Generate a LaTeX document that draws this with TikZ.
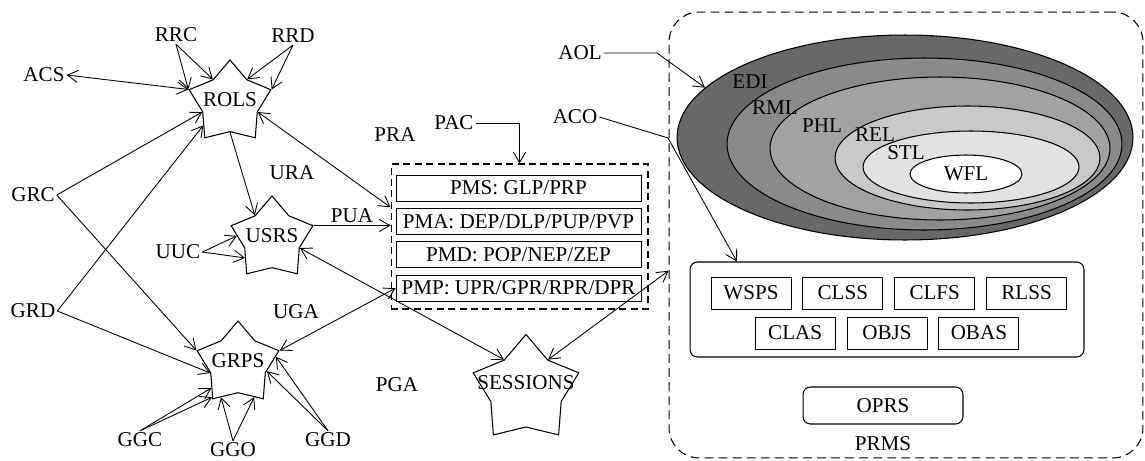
\documentclass[tikz,border=0pt]{standalone}
\usepackage{fontspec}
\setmainfont{Liberation Serif}
\usepackage{tikz}
\usetikzlibrary{arrows.meta,shapes,positioning,calc}
\definecolor{ringa}{RGB}{104,104,106}
\definecolor{ringb}{RGB}{138,138,140}
\definecolor{ringc}{RGB}{162,162,164}
\definecolor{ringd}{RGB}{201,201,203}
\definecolor{ringe}{RGB}{226,226,228}
\tikzstyle{arrow} = [-{Straight Barb[length=6pt,width=7pt]}, line width=0.5pt]
\tikzstyle{darrow} = [{Straight Barb[length=6pt,width=7pt]}-{Straight Barb[length=6pt,width=7pt]}, line width=0.5pt]
\tikzstyle{service} = [star, star points=5, star point ratio=1.5, draw, line width=0.6pt, inner sep=0pt, minimum size=1.72cm]
\tikzstyle{tag} = [inner sep=1pt]
\tikzstyle{perm} = [rectangle, draw, line width=0.5pt, minimum width=4.9cm, minimum height=0.52cm, inner sep=0pt]
\tikzstyle{sub} = [rectangle, draw, line width=0.5pt, minimum width=1.6cm, minimum height=0.64cm, inner sep=0pt]
\tikzstyle{ring} = [ellipse, draw, line width=0.6pt, inner sep=0pt]
\tikzstyle{dashbox} = [rectangle, draw, line width=0.6pt, dash pattern=on 5pt off 3pt]

\begin{document}
\begin{tikzpicture}[x=0.02cm, y=-0.02cm, font=\fontsize{12}{14}\selectfont]
\useasboundingbox (0,0) rectangle (1145,460);

% Services
\node (rols) [service, label={[yshift=2pt]center:ROLS}] at (230,103) {};
\node (usrs) [service, label={[yshift=2pt]center:USRS}] at (272,239) {};
\node (grps) [service, label={[yshift=2pt]center:GRPS}] at (238,364) {};
\node (sess) [service, minimum size=2.22cm, label={[yshift=4pt]center:SESSIONS}] at (526,390) {};

% Tags
\node (acs) [tag] at (44,75) {ACS};
\node (rrc) [tag] at (176,35) {RRC};
\node (rrd) [tag] at (293,36) {RRD};
\node (grc) [tag] at (33,195) {GRC};
\node (grd) [tag] at (33,311) {GRD};
\node (uuc) [tag] at (178,252) {UUC};
\node (ggc) [tag] at (140,440) {GGC};
\node (ggo) [tag] at (233,450) {GGO};
\node (ggd) [tag] at (328,440) {GGD};
\node (ura) [tag] at (292,173) {URA};
\node (pra) [tag] at (395,135) {PRA};
\node (pua) [tag] at (352,216) {PUA};
\node (uga) [tag] at (296,312) {UGA};
\node (pga) [tag] at (397,385) {PGA};
\node (pac) [tag] at (454,123) {PAC};
\node (aco) [tag] at (575,117) {ACO};
\node (aol) [tag] at (580,53) {AOL};

% Permissions
\node (prabox) [dashbox, dash pattern=on 4pt off 2.5pt, minimum width=5.14cm, minimum height=2.9cm] at (519.5,236.5) {};
\node (pms) [perm] at (518.5,188) {PMS: GLP/PRP};
\node (pma) [perm, below=0.13cm of pms] {PMA: DEP/DLP/PUP/PVP};
\node (pmd) [perm, below=0.13cm of pma] {PMD: POP/NEP/ZEP};
\node (pmp) [perm, below=0.13cm of pmd] {PMP: UPR/GPR/RPR/DPR};

% PRMS
\node (prms) [dashbox, rounded corners=0.6cm, minimum width=9.48cm, minimum height=8.92cm] at (906,235) {};
\node (ringedi) [ring, fill=ringa, minimum width=9.12cm, minimum height=4.1cm] at (905,137.5) {};
\node (ringrml) [ring, fill=ringb, minimum width=7.9cm, minimum height=3.44cm] at (924.5,144) {};
\node (ringphl) [ring, fill=ringc, minimum width=6.8cm, minimum height=2.86cm] at (940,148.5) {};
\node (ringrel) [ring, fill=ringd, minimum width=5.3cm, minimum height=2.08cm] at (967.5,158) {};
\node (ringstl) [ring, fill=ringe, minimum width=4.32cm, minimum height=1.44cm] at (971,167) {};
\node (wfl) [ring, fill=white, minimum width=2.24cm, minimum height=0.76cm] at (966,174) {WFL};
\node (edi) [tag] at (750,82) {EDI};
\node (rml) [tag] at (775,108) {RML};
\node (phl) [tag] at (822,126) {PHL};
\node (rel) [tag] at (875,135) {REL};
\node (stl) [tag] at (906,153) {STL};

\node (svc) [rectangle, draw, line width=0.6pt, rounded corners=0.15cm, minimum width=7.88cm, minimum height=1.9cm] at (887,309.5) {};
\node (wsps) [sub] at (751,293) {WSPS};
\node (clss) [sub, right=0.22cm of wsps] {CLSS};
\node (clfs) [sub, right=0.22cm of clss] {CLFS};
\node (rlss) [sub, right=0.22cm of clfs] {RLSS};
\node (objs) [sub] at (887,333) {OBJS};
\node (clas) [sub, left=0.22cm of objs] {CLAS};
\node (obas) [sub, right=0.22cm of objs] {OBAS};
\node (oprs) [rectangle, draw, line width=0.6pt, rounded corners=0.15cm, minimum width=3.2cm, minimum height=0.74cm] at (883,405.5) {OPRS};
\node (prmsname) [tag] at (883,444) {PRMS};

% Flows
\draw[darrow] (acs.east) -- (rols.outer point 2);
\draw[arrow] (rrc.south) -- (rols.outer point 2);
\draw[arrow] (rrc.south) -- (rols.inner point 1);
\draw[arrow] (rrd.south) -- (rols.inner point 5);
\draw[arrow] (rrd.south) -- (rols.outer point 5);
\draw[arrow] (grc.east) -- (rols.inner point 2);
\draw[arrow] (grc.east) -- (grps.outer point 2);
\draw[arrow] (grd.east) -- (rols.220);
\draw[arrow] (grd.east) -- (grps.inner point 2);
\draw[arrow] (rols.inner point 3) -- (usrs.inner point 1);
\draw[darrow] (rols.inner point 4) -- ($(prabox.north west)!0.3!(prabox.south west)$);
\draw[arrow] (usrs.outer point 5) -- (usrs.outer point 5 -| prabox.west);
\draw[arrow] (uuc.east) -- (usrs.175);
\draw[arrow] (uuc.east) -- (usrs.215);
\draw[darrow] (usrs.inner point 4) -- (sess.inner point 1);
\draw[darrow] (grps.outer point 5) -- (pmp.west);
\draw[darrow] (sess.inner point 5) -- ($(prms.north west)!0.58!(prms.south west)$);
\draw[arrow] (ggc.north) -- (grps.222);
\draw[arrow] (ggc.north) -- (grps.232);
\draw[arrow] (ggo.north) -- (grps.243);
\draw[arrow] (ggo.north) -- (grps.296);
\draw[arrow] (ggd.north) -- (grps.346);
\draw[arrow] (ggd.north) -- (grps.11);
\draw[arrow] (pac.east) -| (prabox.north);

\coordinate (aolbend) at (657,53);
\coordinate (acobend) at (668,138);
\draw[arrow] (aol.east) -- (aolbend) -- (ringedi.166);
\draw[arrow] (aco.east) -- (acobend) -- ($(svc.north west)!0.12!(svc.north east)$);
\end{tikzpicture}
\end{document}
